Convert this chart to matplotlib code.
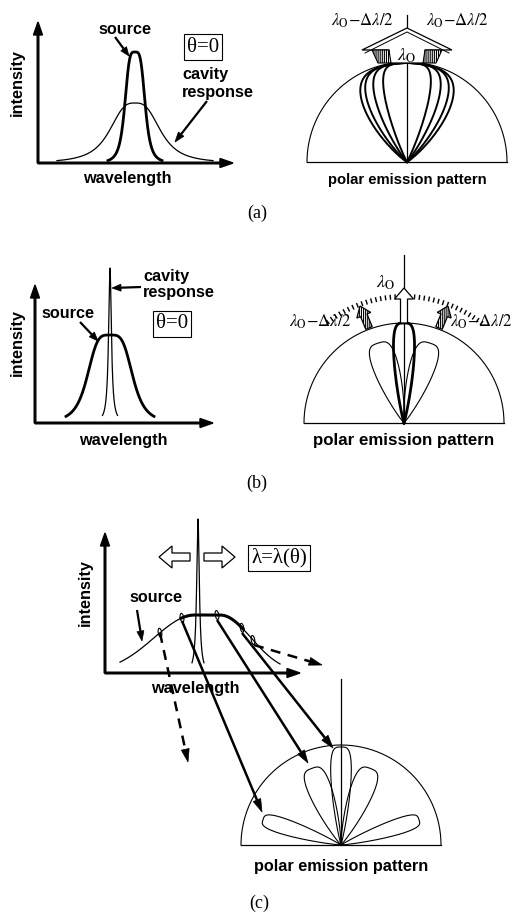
import numpy as np
import matplotlib
matplotlib.use("Agg")
from matplotlib import pyplot as plt
from matplotlib.patches import Polygon, Ellipse

plt.rcParams['mathtext.fontset'] = 'stix'
plt.rcParams['hatch.linewidth'] = 0.8
SANS = 'Liberation Sans'
SERIF = 'Liberation Serif'

# ---- spectra: centre, height, half width, exponent, drawn half span
A_ORIGIN = [38, 163]
A_AXIS_TIPS = [233, 22]
A_SOURCE = [135, 111, 10.5, 4, 27]
A_CAVITY = [135, 60, 27, 3, 78]

B_ORIGIN = [35, 423]
B_AXIS_TIPS = [213, 285]
B_SOURCE = [110, 88, 23.5, 4, 44]
B_CAVITY = [110, 155, 1.7, 2, 7.5]

C_ORIGIN = [105, 673]
C_AXIS_TIPS = [300, 533]
C_CAVITY = [198, 154, 1.6, 2, 6]
# source in (c): flat top edges, height, left/right tail widths, ends, thick part
C_SOURCE_TOP = [195, 220]
C_SOURCE_H = 58
C_SOURCE_TAILS = [58, 44]
C_SOURCE_ENDS = [120, 280]
C_SOURCE_THICK = [181, 243]
C_MARK_X = [160, 182, 217, 242, 253]

# ---- polar patterns: centre, radius, top of vertical line
POLAR_A = [407, 162, 100, 15]
POLAR_B = [404, 423, 100, 255]
POLAR_C = [341, 845, 100, 679]
# lobes: tilt from vertical (deg), length, angular width (deg), exponent, line width
LOBES_A = [(0, 99, 45.6, 6, 1.4), (0, 99, 40.3, 6, 1.4),
           (0, 99, 32, 6, 1.4), (0, 99, 22.3, 6, 1.4)]
LOBES_B = [(0, 100, 11, 4, 2.0), (-18, 84, 16, 4, 0.8), (18, 84, 16, 4, 0.8)]
LOBES_C = [(0, 98, 11, 4, 0.8), (-21, 82, 15, 4, 0.8), (21, 82, 15, 4, 0.8),
           (-72, 82, 10, 4, 0.8), (72, 82, 10, 4, 0.8)]

# ---- arrows in (c) from source marks to lobes (start, end, dashed)
C_RAYS = [((160, 633), (188, 762), True),
          ((182, 621), (262, 812), False),
          ((217, 620), (308, 763), False),
          ((242, 633), (333, 748), False),
          ((254, 645), (322, 665), True)]


def arrow(ax, p0, p1, lw=1.6, hl=10, hw=7, dashed=False):
    p0 = np.array(p0, float)
    p1 = np.array(p1, float)
    u = (p1 - p0) / np.hypot(*(p1 - p0))
    base = p1 - u * hl
    ax.plot([p0[0], base[0]], [p0[1], base[1]], color='k', lw=lw,
            ls=(0, (4, 3)) if dashed else '-', solid_capstyle='butt')
    perp = np.array([-u[1], u[0]])
    ax.add_patch(Polygon([p1, base + perp * hw / 2, base - perp * hw / 2],
                         closed=True, fc='k', ec='k', lw=0.5, zorder=3))


def open_arrow(ax, tip, tail, sw, hw, hl, hatch=None, lw=0.9):
    tip = np.array(tip, float)
    tail = np.array(tail, float)
    u = (tip - tail) / np.hypot(*(tip - tail))
    p = np.array([-u[1], u[0]])
    b = tip - u * hl
    pts = [tip, b + p * hw / 2, b + p * sw / 2, tail + p * sw / 2,
           tail - p * sw / 2, b - p * sw / 2, b - p * hw / 2]
    ax.add_patch(Polygon(pts, closed=True, fc='white', ec='k', lw=lw,
                         hatch=hatch, zorder=4))


def axes_arrows(ax, origin, tips):
    x0, y0 = origin
    ax.arrow(x0, y0, 0, tips[1] - y0, width=1.6, head_width=9, head_length=13,
             length_includes_head=True, fc='k', ec='k')
    ax.arrow(x0, y0, tips[0] - x0, 0, width=1.6, head_width=9, head_length=13,
             length_includes_head=True, fc='k', ec='k')


def spectrum(ax, y0, spec, lw):
    c, h, w, p, span = spec
    x = np.linspace(c - span, c + span, 400)
    y = y0 - h / (1 + (np.abs(x - c) / w) ** p)
    ax.plot(x, y, color='k', lw=lw)


def source_c(x):
    left, right = C_SOURCE_TOP
    y = np.full_like(x, 1.0)
    y = np.where(x < left, np.exp(-((x - left) / C_SOURCE_TAILS[0]) ** 2), y)
    y = np.where(x > right, np.exp(-((x - right) / C_SOURCE_TAILS[1]) ** 2), y)
    return C_ORIGIN[1] - C_SOURCE_H * y


def polar(ax, geo, lobes):
    cx, cy, R, top = geo
    t = np.linspace(0, np.pi, 300)
    ax.plot(cx + R * np.cos(t), cy - R * np.sin(t), color='k', lw=0.8)
    ax.plot([cx - R, cx + R], [cy, cy], color='k', lw=0.9)
    ax.plot([cx, cx], [cy, top], color='k', lw=0.9)
    psi = np.radians(np.linspace(-90, 90, 600))
    for tilt, L, w, n, lw in lobes:
        r = L * np.exp(-(np.abs(psi) / np.radians(w)) ** n)
        a = psi + np.radians(tilt)
        ax.plot(cx + r * np.sin(a), cy - r * np.cos(a), color='k', lw=lw)


def label(ax, x, y, s, size=11.7, **kw):
    ax.text(x, y, s, fontsize=size, fontfamily=SANS, fontweight='bold',
            ha=kw.pop('ha', 'center'), va='center', **kw)


def boxed(ax, x, y, s, size=15):
    ax.text(x, y, s, fontsize=size, fontfamily=SERIF, ha='center', va='center',
            bbox=dict(boxstyle='square,pad=0.15', fc='white', ec='k', lw=0.8))


fig = plt.figure(figsize=(5.12, 9.16), dpi=100)
ax = fig.add_axes([0, 0, 1, 1])
ax.set_xlim(0, 512)
ax.set_ylim(916, 0)
ax.axis('off')

lam_side = r'$\lambda_{\mathrm{O}}\mathrm{-}\Delta\lambda/2$'
lam0 = r'$\lambda_{\mathrm{O}}$'

# ================= (a) =================
axes_arrows(ax, A_ORIGIN, A_AXIS_TIPS)
spectrum(ax, A_ORIGIN[1], A_CAVITY, 0.9)
spectrum(ax, A_ORIGIN[1], A_SOURCE, 2.0)
label(ax, 125, 30, 'source')
arrow(ax, (115, 37), (129, 56), lw=1.6, hl=9, hw=7)
boxed(ax, 203, 47, 'θ=0')
label(ax, 182, 74, 'cavity', ha='left')
label(ax, 182, 92, 'response', ha='left')
arrow(ax, (207, 101), (175, 142), lw=1.6, hl=10, hw=7)
label(ax, 127, 178, 'wavelength')
label(ax, 17, 83, 'intensity', rotation=90)

polar(ax, POLAR_A, LOBES_A)
open_arrow(ax, (407, 28), (407, 63), 36, 90, 22)
ax.plot([365, 407, 449], [53, 32, 53], color='k', lw=0.7, zorder=5)
ax.add_patch(Polygon([(372, 50), (389, 50), (391, 63), (378, 63)], closed=True,
                     fc='white', ec='k', lw=0.8, hatch='||||||||', zorder=5))
ax.add_patch(Polygon([(425, 50), (442, 50), (436, 63), (423, 63)], closed=True,
                     fc='white', ec='k', lw=0.8, hatch='||||||||', zorder=5))
ax.text(407, 56, lam0, fontsize=13, ha='center', va='center', zorder=6)
ax.text(362, 21, lam_side, fontsize=12, ha='center', va='center')
ax.text(457, 21, lam_side, fontsize=12, ha='center', va='center')
label(ax, 407, 180, 'polar emission pattern', size=10.7)
ax.text(257, 213, '(a)', fontsize=13, fontfamily=SERIF, ha='center', va='center')

# ================= (b) =================
axes_arrows(ax, B_ORIGIN, B_AXIS_TIPS)
spectrum(ax, B_ORIGIN[1], B_SOURCE, 2.0)
spectrum(ax, B_ORIGIN[1], B_CAVITY, 0.9)
label(ax, 143, 277, 'cavity', ha='left')
label(ax, 143, 293, 'response', ha='left')
arrow(ax, (141, 287), (112, 288), lw=1.6, hl=9, hw=7)
label(ax, 68, 313, 'source')
arrow(ax, (80, 322), (98, 341), lw=1.6, hl=9, hw=7)
boxed(ax, 172, 324, 'θ=0')
label(ax, 123, 440, 'wavelength')
label(ax, 17, 343, 'intensity', rotation=90)

polar(ax, POLAR_B, LOBES_B)
arc_ang = np.radians(np.arange(-37, 38, 2.2))
for a in arc_ang:
    r0, r1 = 124, 129
    ax.plot([POLAR_B[0] + r0 * np.sin(a), POLAR_B[0] + r1 * np.sin(a)],
            [POLAR_B[1] - r0 * np.cos(a), POLAR_B[1] - r1 * np.cos(a)],
            color='k', lw=1.0, solid_capstyle='butt')
open_arrow(ax, (404, 288), (404, 323), 7, 19, 11)
open_arrow(ax, (360, 306), (369, 328), 7, 15, 10, hatch='||||||||')
open_arrow(ax, (448, 306), (439, 328), 7, 15, 10, hatch='||||||||')
ax.text(386, 283, lam0, fontsize=13, ha='center', va='center')
ax.text(320, 322, lam_side, fontsize=12, ha='center', va='center')
ax.text(481, 322, lam_side, fontsize=12, ha='center', va='center')
label(ax, 404, 440, 'polar emission pattern', size=12.2)
ax.text(257, 483, '(b)', fontsize=13, fontfamily=SERIF, ha='center', va='center')

# ================= (c) =================
axes_arrows(ax, C_ORIGIN, C_AXIS_TIPS)
spectrum(ax, C_ORIGIN[1], C_CAVITY, 0.9)
xs = np.linspace(C_SOURCE_ENDS[0], C_SOURCE_ENDS[1], 500)
ax.plot(xs, source_c(xs), color='k', lw=0.9)
xt = np.linspace(C_SOURCE_THICK[0], C_SOURCE_THICK[1], 200)
ax.plot(xt, source_c(xt), color='k', lw=2.2)
for xm in C_MARK_X:
    ax.add_patch(Ellipse((xm, source_c(np.array([xm]))[0]), 3.5, 9, angle=-10,
                         fc='none', ec='k', lw=0.8, zorder=4))
open_arrow(ax, (159, 557), (190, 557), 8, 22, 13)
open_arrow(ax, (235, 557), (204, 557), 8, 22, 13)
boxed(ax, 279, 558, 'λ=λ(θ)')
label(ax, 156, 597, 'source')
arrow(ax, (137, 610), (142, 641), lw=1.6, hl=10, hw=7)
label(ax, 195, 688, 'wavelength')
label(ax, 85, 593, 'intensity', rotation=90)

polar(ax, POLAR_C, LOBES_C)
for p0, p1, dashed in C_RAYS:
    arrow(ax, p0, p1, lw=1.8, hl=13, hw=8, dashed=dashed)
label(ax, 341, 867, 'polar emission pattern')
ax.text(259, 903, '(c)', fontsize=13, fontfamily=SERIF, ha='center', va='center')

fig.savefig('out.png', dpi=100)
